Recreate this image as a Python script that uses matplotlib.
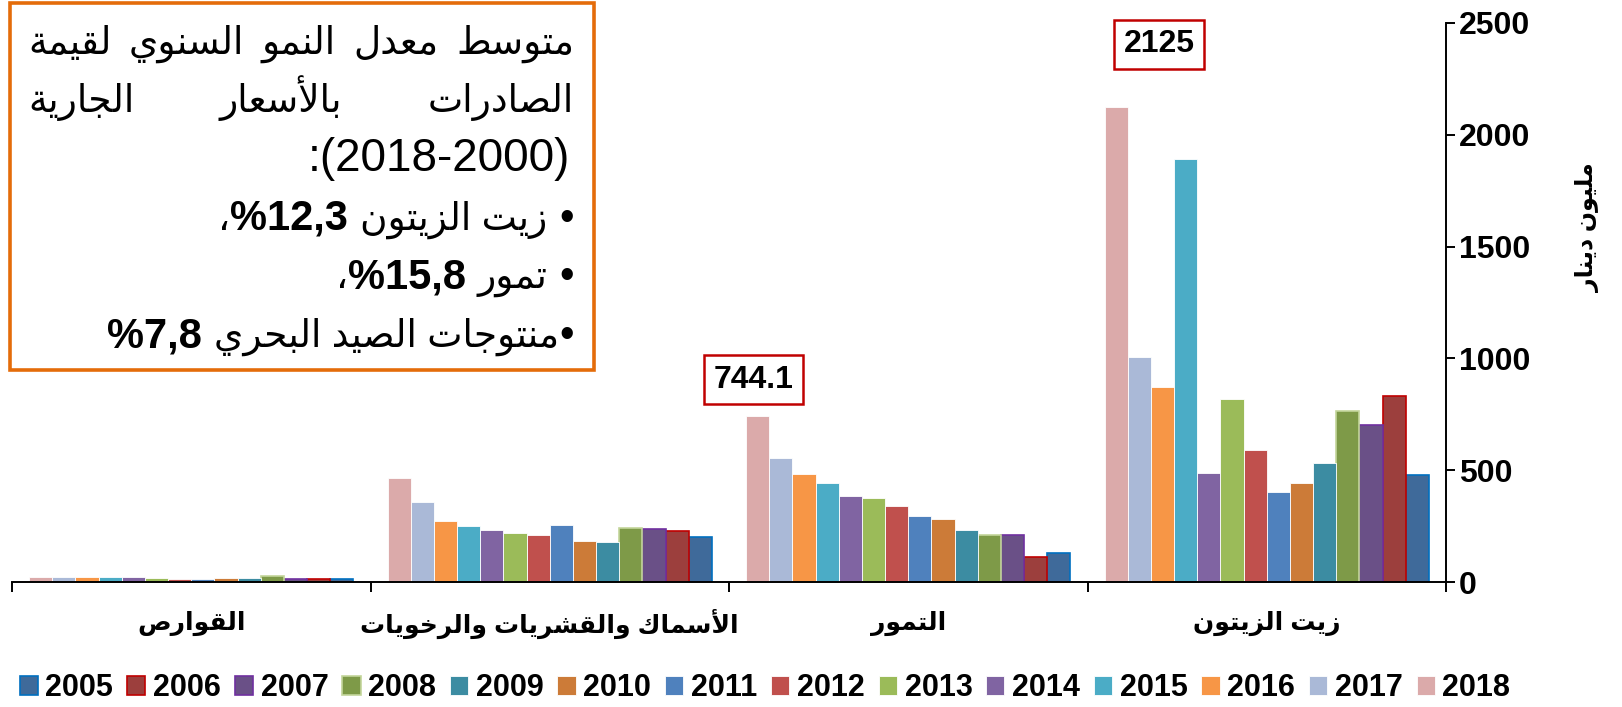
import numpy as np
import matplotlib.pyplot as plt
from matplotlib.patches import Rectangle
from matplotlib.transforms import blended_transform_factory

plt.rcParams['font.family'] = ['Liberation Sans', 'DejaVu Sans']

# --- data (values in million dinars) ---
categories = ['زيت الزيتون', 'التمور', 'الأسماك والقشريات والرخويات', 'القوارص']
years = [2005, 2006, 2007, 2008, 2009, 2010, 2011, 2012, 2013, 2014, 2015, 2016, 2017, 2018]
olive_oil = [477, 830, 701, 765, 532, 441, 401, 592, 818, 489, 1890, 871, 1008, 2125]
dates = [129, 114, 210, 210, 233, 283, 293, 341, 377, 386, 443, 484, 556, 744.1]
fish = [203, 227, 236, 241, 180, 183, 253, 212, 221, 232, 250, 271, 358, 465]
citrus = [15, 15, 15, 29, 20, 20, 15, 14, 17, 21, 21, 24, 21, 21]

bar_colors = ['#3F6A9A', '#9C3F3D', '#6A5087', '#7E9A48', '#3C8CA2', '#CC7B38', '#4F81BD',
              '#C0504D', '#9BBB59', '#8064A2', '#4BACC6', '#F79646', '#AAB9D7', '#DBAAAA']
edge_colors = ['#0070C0', '#C00000', '#7030A0', '#C3D69B'] + ['white'] * 10

# --- minimal arabic shaping (matplotlib has no complex text layout) ---
FORMS = {
    'ا': ('\uFE8D', '\uFE8E', None, None), 'أ': ('\uFE83', '\uFE84', None, None),
    'ب': ('\uFE8F', '\uFE90', '\uFE91', '\uFE92'), 'ة': ('\uFE93', '\uFE94', None, None),
    'ت': ('\uFE95', '\uFE96', '\uFE97', '\uFE98'), 'ج': ('\uFE9D', '\uFE9E', '\uFE9F', '\uFEA0'),
    'ح': ('\uFEA1', '\uFEA2', '\uFEA3', '\uFEA4'), 'خ': ('\uFEA5', '\uFEA6', '\uFEA7', '\uFEA8'),
    'د': ('\uFEA9', '\uFEAA', None, None), 'ر': ('\uFEAD', '\uFEAE', None, None),
    'ز': ('\uFEAF', '\uFEB0', None, None), 'س': ('\uFEB1', '\uFEB2', '\uFEB3', '\uFEB4'),
    'ش': ('\uFEB5', '\uFEB6', '\uFEB7', '\uFEB8'), 'ص': ('\uFEB9', '\uFEBA', '\uFEBB', '\uFEBC'),
    'ط': ('\uFEC1', '\uFEC2', '\uFEC3', '\uFEC4'), 'ع': ('\uFEC9', '\uFECA', '\uFECB', '\uFECC'),
    'ق': ('\uFED5', '\uFED6', '\uFED7', '\uFED8'), 'ك': ('\uFED9', '\uFEDA', '\uFEDB', '\uFEDC'),
    'ل': ('\uFEDD', '\uFEDE', '\uFEDF', '\uFEE0'), 'م': ('\uFEE1', '\uFEE2', '\uFEE3', '\uFEE4'),
    'ن': ('\uFEE5', '\uFEE6', '\uFEE7', '\uFEE8'), 'و': ('\uFEED', '\uFEEE', None, None),
    'ي': ('\uFEF1', '\uFEF2', '\uFEF3', '\uFEF4'),
}
LAM_ALEF = {'ا': ('\uFEFB', '\uFEFC'), 'أ': ('\uFEF7', '\uFEF8')}


def shape_word(word):
    out = []
    i = 0
    prev = False
    while i < len(word):
        ch = word[i]
        if ch == 'ل' and i + 1 < len(word) and word[i + 1] in LAM_ALEF:
            iso, fin = LAM_ALEF[word[i + 1]]
            out.append(fin if prev else iso)
            prev = False
            i += 2
            continue
        f = FORMS.get(ch)
        if f is None:
            out.append(ch)
            prev = False
            i += 1
            continue
        nxt = word[i + 1] if i + 1 < len(word) else ''
        joins = f[2] is not None and nxt in FORMS
        if prev and joins:
            g = f[3]
        elif prev:
            g = f[1]
        elif joins:
            g = f[2]
        else:
            g = f[0]
        out.append(g)
        prev = joins
        i += 1
    return ''.join(reversed(out))


def ar(text):
    return ' '.join(shape_word(w) for w in reversed(text.split(' ')))


W, H = 1622, 707
fig = plt.figure(figsize=(W / 100, H / 100), dpi=100)
ax = fig.add_axes([12 / W, 1 - 582 / H, (1446 - 12) / W, (582 - 23) / H])

n = len(years)
bw = 0.905 / n
x = np.arange(len(categories))
for j, yr in enumerate(years):
    vals = [olive_oil[j], dates[j], fish[j], citrus[j]]
    ax.bar(x + (j - (n - 1) / 2) * bw, vals, width=bw, color=bar_colors[j],
           edgecolor=edge_colors[j], linewidth=1.2 if j < 4 else 0.6, label=str(yr))

ax.set_xlim(len(categories) - 0.5, -0.5)
ax.set_ylim(0, 2500)
ax.spines['left'].set_visible(False)
ax.spines['top'].set_visible(False)
ax.spines['right'].set_linewidth(1.4)
ax.spines['bottom'].set_linewidth(1.4)
ax.yaxis.tick_right()
ax.set_yticks(range(0, 2501, 500))
ax.tick_params(axis='y', direction='out', length=6.5, width=1.4, pad=3, labelsize=23)
for lab in ax.get_yticklabels():
    lab.set_fontweight('bold')
ax.set_xticks(np.arange(-0.5, len(categories)))
ax.set_xticklabels([])
ax.tick_params(axis='x', direction='out', length=7, width=1.4)

trans = blended_transform_factory(ax.transData, ax.transAxes)
for i, c in enumerate(categories):
    ax.text(i, -0.075, ar(c), transform=trans, ha='center', va='center',
            fontsize=18, fontweight='bold')

fig.text(1588 / W, 1 - 228 / H, ar('مليون دينار'), rotation=90, ha='center', va='center',
         fontsize=17, fontweight='bold')

# value callouts
for val, xi, off in [(olive_oil[-1], 0, (31, 45)), (dates[-1], 1, (-3, 26))]:
    ax.annotate(f'{val:g}', xy=(xi + (n - 1) / 2 * bw, val), xytext=off, textcoords='offset points',
                ha='center', va='center', fontsize=23, fontweight='bold',
                bbox=dict(boxstyle='square,pad=0.3', fc='white', ec='#C00000', lw=1.8))

fig.legend(loc='center', bbox_to_anchor=(765 / W, 1 - 688 / H), ncol=n, frameon=False,
           prop={'weight': 'bold', 'size': 22}, handlelength=0.6, handleheight=0.6,
           handletextpad=0.25, columnspacing=0.45, borderpad=0)

# --- text box ---
fig.add_artist(Rectangle((10 / W, 1 - 370 / H), 584 / W, 367 / H, transform=fig.transFigure,
                         facecolor='white', edgecolor='#E46C0A', linewidth=2.6, zorder=5))

renderer = fig.canvas.get_renderer()
FS_AR = 27
FS_NUM = 30


def seg_text(s, weight, size):
    return fig.text(0, 0, s, fontsize=size, fontweight=weight, ha='left', va='baseline', zorder=6)


def right_line(segments, x_right, y):
    # segments in visual order, left to right; a number means a gap in pixels
    cur = x_right
    for seg in reversed(segments):
        if isinstance(seg, (int, float)):
            cur -= seg
            continue
        t = seg_text(*seg)
        wpx = t.get_window_extent(renderer).width
        cur -= wpx
        t.set_position((cur / W, 1 - y / H))


def justified_line(words, x_left, x_right, y):
    texts = [seg_text(wd, 'normal', FS_AR) for wd in words]
    widths = [t.get_window_extent(renderer).width for t in texts]
    gap = (x_right - x_left - sum(widths)) / (len(words) - 1)
    cur = x_left
    for t, wpx in zip(texts, widths):
        t.set_position((cur / W, 1 - y / H))
        cur += wpx + gap


XL, XR = 28, 574
justified_line([shape_word(w) for w in reversed('متوسط معدل النمو السنوي لقيمة'.split())], XL, XR, 54)
justified_line([shape_word(w) for w in reversed('الصادرات بالأسعار الجارية'.split())], XL, XR, 112)
right_line([(':(2018-2000)', 'normal', 33)], XR - 4, 171)
right_line([('،', 'normal', FS_AR), ('%12,3', 'bold', FS_NUM), 12,
            (ar('زيت الزيتون'), 'normal', FS_AR), 12, ('•', 'normal', FS_NUM)], XR, 230)
right_line([('،', 'normal', FS_AR), ('%15,8', 'bold', FS_NUM), 12,
            (ar('تمور'), 'normal', FS_AR), 12, ('•', 'normal', FS_NUM)], XR, 288)
right_line([('%7,8', 'bold', FS_NUM), 12, (ar('منتوجات الصيد البحري'), 'normal', FS_AR),
            ('•', 'normal', FS_NUM)], XR, 347)

fig.savefig('out.png', dpi=100, facecolor='white')
